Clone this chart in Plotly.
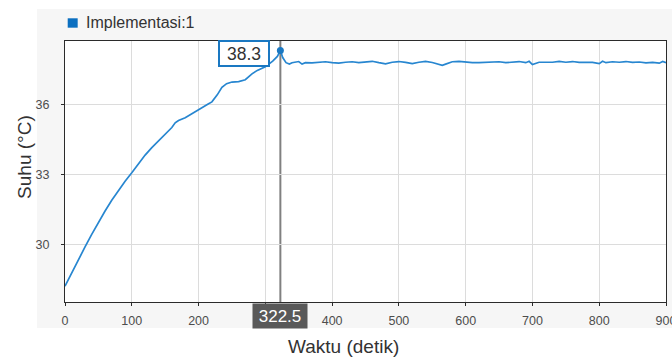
import plotly.graph_objects as go

SERIES_NAME = "Implementasi:1"
X_TITLE = "Waktu (detik)"
Y_TITLE = "Suhu (°C)"

CURSOR_T = 322.5
CURSOR_V = 38.3

time_s = [
    0, 10, 20, 30, 40, 50, 60, 70, 80, 90,
    100, 110, 120, 130, 140, 150, 160, 165, 170, 180,
    190, 200, 210, 215, 220, 228, 235, 242, 250, 260,
    270, 280, 288, 300, 311, 318, 322.5, 326, 331, 336,
    340, 350, 355, 360, 370, 380, 390, 400, 410, 420,
    430, 440, 450, 460, 470, 480, 490, 500, 510, 520,
    530, 540, 550, 560, 565, 570, 580, 590, 600, 610,
    620, 630, 640, 650, 660, 670, 680, 690, 695, 700,
    705, 710, 720, 730, 740, 750, 760, 770, 780, 790,
    800, 805, 810, 820, 830, 840, 850, 860, 870, 880,
    890, 895, 900,
]

suhu = [
    28.20, 28.78, 29.35, 29.88, 30.42, 30.93, 31.42, 31.88, 32.30, 32.70,
    33.06, 33.45, 33.82, 34.14, 34.43, 34.70, 35.00, 35.20, 35.30, 35.42,
    35.60, 35.78, 35.94, 36.02, 36.10, 36.40, 36.72, 36.88, 36.95, 36.97,
    37.05, 37.30, 37.45, 37.60, 37.85, 38.05, 38.30, 38.00, 37.78, 37.72,
    37.78, 37.83, 37.72, 37.78, 37.77, 37.80, 37.82, 37.78, 37.76, 37.80,
    37.82, 37.78, 37.80, 37.84, 37.78, 37.73, 37.80, 37.83, 37.79, 37.74,
    37.80, 37.84, 37.79, 37.70, 37.67, 37.72, 37.82, 37.84, 37.80, 37.78,
    37.78, 37.80, 37.79, 37.82, 37.78, 37.80, 37.83, 37.78, 37.84, 37.70,
    37.76, 37.80, 37.80, 37.80, 37.84, 37.80, 37.83, 37.79, 37.79, 37.79,
    37.74, 37.84, 37.78, 37.82, 37.80, 37.83, 37.79, 37.81, 37.77, 37.79,
    37.76, 37.83, 37.78,
]

x_ticks = [0, 100, 200, 300, 400, 500, 600, 700, 800, 900]
# 300 sits under the cursor readout, so its label is left empty
x_tick_text = ["0", "100", "200", "", "400", "500", "600", "700", "800", "900"]
y_ticks = [30, 33, 36]

LINE_BLUE = "#2786d0"
FONT = "Liberation Sans, Arial, sans-serif"

fig = go.Figure()

fig.add_trace(go.Scatter(
    x=time_s,
    y=suhu,
    mode="lines",
    name=SERIES_NAME,
    line=dict(color=LINE_BLUE, width=1.7),
    showlegend=False,
))

# cursor point
fig.add_trace(go.Scatter(
    x=[CURSOR_T],
    y=[CURSOR_V],
    mode="markers",
    marker=dict(color="#1a78c2", size=7),
    showlegend=False,
))

axis_common = dict(
    showline=True,
    linecolor="#2b2b2b",
    linewidth=1,
    mirror=True,
    showgrid=True,
    gridcolor="#dcdcdc",
    gridwidth=1,
    zeroline=False,
    ticks="outside",
    ticklen=3,
    tickcolor="#2b2b2b",
    tickfont=dict(family=FONT, size=12.5, color="#4d4d4d"),
    ticklabeloverflow="allow",
    automargin=False,
)

fig.update_layout(
    width=672,
    height=361,
    margin=dict(l=65, r=6, t=41, b=59),
    paper_bgcolor="white",
    plot_bgcolor="white",
    font=dict(family=FONT),
    xaxis=dict(range=[0, 900], tickvals=x_ticks, ticktext=x_tick_text,
               ticklabelstandoff=4, **axis_common),
    yaxis=dict(range=[27.52, 38.71], tickvals=y_ticks,
               ticklabelstandoff=9, **axis_common),
)

# light panel behind the axes, white plot area on top of it
fig.add_shape(type="rect", xref="paper", yref="paper",
              x0=-0.0466, x1=1.02, y0=-0.0996, y1=1.1226,
              fillcolor="#f6f6f6", line_width=0, layer="below")
fig.add_shape(type="rect", xref="paper", yref="paper",
              x0=0, x1=1, y0=0, y1=1,
              fillcolor="white", line_width=0, layer="below")

# cursor line
fig.add_shape(type="line", xref="x", yref="paper",
              x0=CURSOR_T, x1=CURSOR_T, y0=0, y1=1,
              line=dict(color="#808080", width=2), layer="below")

# legend
fig.add_shape(type="rect", xref="paper", yref="paper",
              x0=0.0045, x1=0.0211, y0=1.051, y1=1.087,
              fillcolor="#0b6fc0", line_width=0)
fig.add_annotation(x=0.0316, y=1.069, xref="paper", yref="paper",
                   text=SERIES_NAME, showarrow=False,
                   xanchor="left", yanchor="middle",
                   font=dict(family=FONT, size=16, color="#333333"))

# data tip
fig.add_annotation(x=CURSOR_T, y=CURSOR_V, xref="x", yref="y",
                   text="{:.1f}".format(CURSOR_V), showarrow=False,
                   xanchor="right", yanchor="middle", xshift=-10, yshift=-3,
                   width=46, height=21,
                   bgcolor="white", bordercolor="#1a78c2", borderwidth=2,
                   borderpad=1,
                   font=dict(family=FONT, size=17.5, color="#333333"))

# cursor value on x axis
fig.add_annotation(x=CURSOR_T, y=0, xref="x", yref="paper",
                   text="{}".format(CURSOR_T), showarrow=False,
                   xanchor="center", yanchor="top", yshift=-1,
                   width=50, height=20,
                   bgcolor="#595959", borderpad=2,
                   font=dict(family=FONT, size=17, color="white"))

# axis titles
fig.add_annotation(x=0.463, y=-0.172, xref="paper", yref="paper",
                   text=X_TITLE, showarrow=False,
                   xanchor="center", yanchor="middle",
                   font=dict(family=FONT, size=19, color="#333333"))
fig.add_annotation(x=-0.0665, y=0.556, xref="paper", yref="paper",
                   text=Y_TITLE, showarrow=False, textangle=-90,
                   xanchor="center", yanchor="middle",
                   font=dict(family=FONT, size=19, color="#333333"))

fig.write_html("out.html", config={"displayModeBar": False},
               post_script="document.body.style.margin='0px';")
